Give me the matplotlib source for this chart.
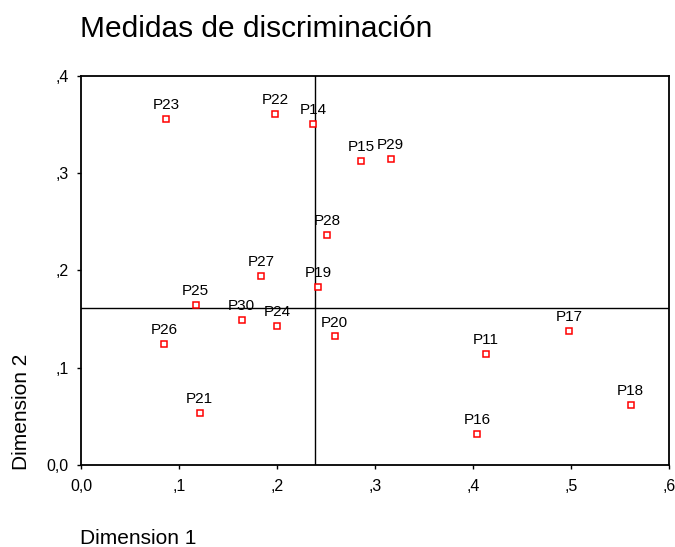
import matplotlib.pyplot as plt
from matplotlib.ticker import FuncFormatter

# discrimination measures per item
items = ['P11', 'P14', 'P15', 'P16', 'P17', 'P18', 'P19', 'P20', 'P21',
         'P22', 'P23', 'P24', 'P25', 'P26', 'P27', 'P28', 'P29', 'P30']
dim1 = [0.413, 0.237, 0.286, 0.404, 0.498, 0.561, 0.242, 0.259, 0.121,
        0.198, 0.087, 0.200, 0.117, 0.085, 0.184, 0.251, 0.316, 0.164]
dim2 = [0.114, 0.350, 0.312, 0.032, 0.138, 0.062, 0.183, 0.132, 0.053,
        0.361, 0.356, 0.143, 0.164, 0.124, 0.194, 0.236, 0.314, 0.149]

# reference lines
ref_x = 0.239
ref_y = 0.161

xticks = [0.0, 0.1, 0.2, 0.3, 0.4, 0.5, 0.6]
yticks = [0.0, 0.1, 0.2, 0.3, 0.4]


def comma_fmt(v, pos):
    if abs(v) < 1e-9:
        return '0,0'
    return ',' + f'{v:.1f}'.split('.')[1]


def main():
    plt.rcParams['font.family'] = ['Liberation Sans', 'DejaVu Sans']

    fig = plt.figure(figsize=(6.75, 5.47), dpi=100)
    ax = fig.add_axes([0.12, 0.15, 0.871, 0.7116])

    ax.axvline(ref_x, color='black', lw=1.0, zorder=1)
    ax.axhline(ref_y, color='black', lw=1.0, zorder=1)

    ax.plot(dim1, dim2, 's', ms=5, mfc='white', mec='red', mew=1.1,
            linestyle='none', zorder=3)
    for name, x, y in zip(items, dim1, dim2):
        ax.annotate(name, (x, y), xytext=(0, 5), textcoords='offset points',
                    ha='center', va='bottom', fontsize=11, color='black')

    ax.set_xlim(0, 0.6)
    ax.set_ylim(0, 0.4)
    ax.set_xticks(xticks)
    ax.set_yticks(yticks)
    ax.xaxis.set_major_formatter(FuncFormatter(comma_fmt))
    ax.yaxis.set_major_formatter(FuncFormatter(comma_fmt))
    ax.tick_params(direction='out', length=3, width=1, labelsize=11.5,
                   pad=6, colors='black')
    ax.tick_params(axis='x', pad=7)

    for sp in ax.spines.values():
        sp.set_linewidth(1.3)
        sp.set_color('black')

    fig.text(80 / 675, 1 - 29 / 547, 'Medidas de discriminación',
             fontsize=21.5, ha='left', va='center')
    fig.text(80 / 675, 1 - 538 / 547, 'Dimension 1',
             fontsize=15, ha='left', va='center')
    fig.text(22 / 675, 1 - 470 / 547, 'Dimension 2',
             fontsize=15, rotation=90, ha='center', va='bottom')

    fig.savefig('out.png', dpi=100)


if __name__ == '__main__':
    main()
